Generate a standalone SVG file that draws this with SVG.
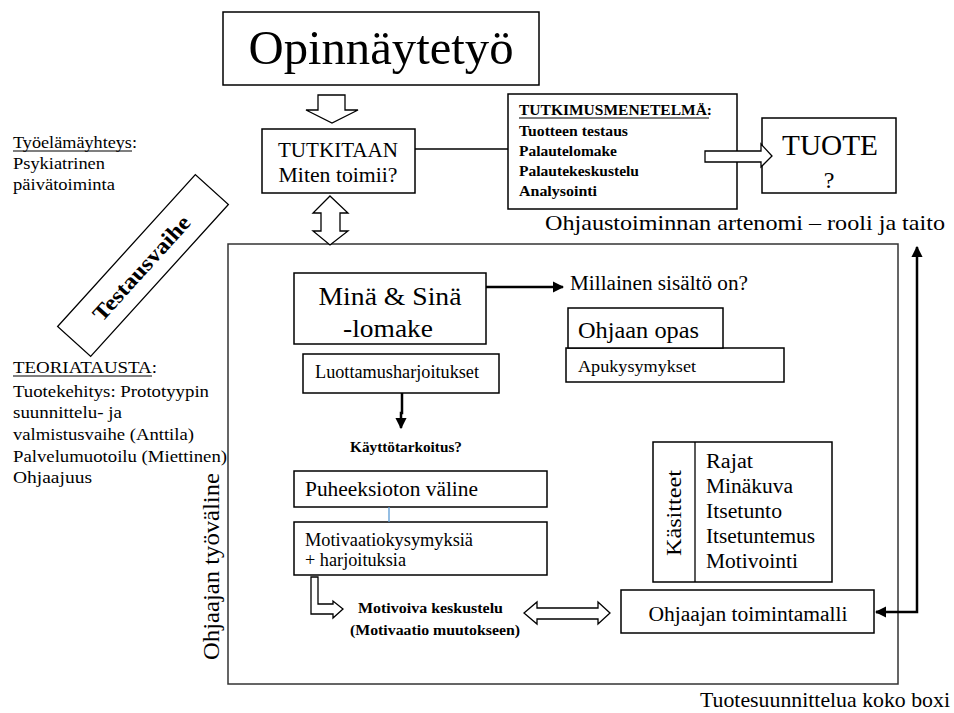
<svg xmlns="http://www.w3.org/2000/svg" width="954" height="713" viewBox="0 0 954 713" font-family="'Liberation Serif', 'DejaVu Serif', serif">
<style>
text{font-family:'Liberation Serif','DejaVu Serif',serif;font-weight:normal;fill:#000}
text.b{font-weight:bold}
.box{fill:#fff;stroke:#000;stroke-width:1.5}
.blk{fill:#fff;stroke:#000;stroke-width:1.3;stroke-linejoin:miter}
.ln{fill:none;stroke:#000;stroke-width:2.5}
.thin{fill:none;stroke:#000;stroke-width:1.3}
.ul{stroke:#000;stroke-width:1.2}
</style>
<defs>
<marker id="ah" viewBox="0 0 10 10" refX="9" refY="5" markerWidth="4.5" markerHeight="4.5" orient="auto" markerUnits="strokeWidth">
<path d="M0,0 L10,5 L0,10 z" fill="#000"/>
</marker>
</defs>
<rect width="954" height="713" fill="#fff"/>

<g id="opinnaytetyo">
<rect class="box" x="223" y="12" width="316" height="73"/>
<text x="381" y="64" font-size="48" text-anchor="middle" textLength="265" lengthAdjust="spacingAndGlyphs">Opinnäytetyö</text>
</g>

<g id="tutkitaan">
<rect class="box" x="262" y="129" width="153" height="64"/>
<text x="338" y="157" font-size="20" text-anchor="middle" textLength="120" lengthAdjust="spacingAndGlyphs">TUTKITAAN</text>
<text x="338" y="182" font-size="20" text-anchor="middle" textLength="119" lengthAdjust="spacingAndGlyphs">Miten toimii?</text>
</g>

<g id="tutkimusmenetelma">
<rect class="box" x="508" y="94" width="229" height="115"/>
<text x="519" y="115" font-size="14" class="b" textLength="193" lengthAdjust="spacingAndGlyphs">TUTKIMUSMENETELMÄ:</text>
<line class="ul" x1="519" y1="118" x2="709" y2="118"/>
<text x="519" y="136" font-size="15" class="b" textLength="109" lengthAdjust="spacingAndGlyphs">Tuotteen testaus</text>
<text x="519" y="156" font-size="15" class="b" textLength="98" lengthAdjust="spacingAndGlyphs">Palautelomake</text>
<text x="519" y="176" font-size="15" class="b" textLength="120" lengthAdjust="spacingAndGlyphs">Palautekeskustelu</text>
<text x="519" y="196" font-size="15" class="b" textLength="78" lengthAdjust="spacingAndGlyphs">Analysointi</text>
</g>

<g id="tuote">
<rect class="box" x="762" y="118" width="134" height="75"/>
<text x="830" y="155" font-size="29" text-anchor="middle" textLength="96" lengthAdjust="spacingAndGlyphs">TUOTE</text>
<text x="829" y="188" font-size="24" text-anchor="middle">?</text>
</g>

<g id="label-ohjaustoiminnan">
<text x="545" y="230" font-size="22" textLength="400" lengthAdjust="spacingAndGlyphs">Ohjaustoiminnan artenomi – rooli ja taito</text>
</g>

<g id="tyoelamayhteys">
<text x="13" y="148" font-size="17" textLength="124" lengthAdjust="spacingAndGlyphs">Työelämäyhteys:</text>
<line class="ul" x1="13" y1="151" x2="132" y2="151"/>
<text x="13" y="169" font-size="17" textLength="92" lengthAdjust="spacingAndGlyphs">Psykiatrinen</text>
<text x="13" y="190" font-size="17" textLength="102" lengthAdjust="spacingAndGlyphs">päivätoiminta</text>
</g>

<g id="testausvaihe" transform="translate(143,265.5) rotate(-47.8)">
<rect x="-102.5" y="-22.3" width="205" height="44.6" fill="#fff" stroke="#000" stroke-width="1.3"/>
<text x="-3" y="8" font-size="22" class="b" text-anchor="middle" textLength="134" lengthAdjust="spacingAndGlyphs">Testausvaihe</text>
</g>

<g id="teoriatausta">
<text x="13" y="373" font-size="17" textLength="144" lengthAdjust="spacingAndGlyphs">TEORIATAUSTA:</text>
<line class="ul" x1="13" y1="376" x2="152" y2="376"/>
<text x="13" y="397" font-size="17" textLength="196" lengthAdjust="spacingAndGlyphs">Tuotekehitys: Prototyypin</text>
<text x="13" y="418" font-size="17" textLength="109" lengthAdjust="spacingAndGlyphs">suunnittelu- ja</text>
<text x="13" y="440" font-size="17" textLength="181" lengthAdjust="spacingAndGlyphs">valmistusvaihe (Anttila)</text>
<text x="13" y="462" font-size="17" textLength="214" lengthAdjust="spacingAndGlyphs">Palvelumuotoilu (Miettinen)</text>
<text x="13" y="483" font-size="17" textLength="79" lengthAdjust="spacingAndGlyphs">Ohjaajuus</text>
</g>

<g id="tuotesuunnittelu-box">
<rect x="228" y="244" width="670" height="440" fill="none" stroke="#333" stroke-width="1.5"/>
<text x="700" y="707" font-size="22" textLength="250" lengthAdjust="spacingAndGlyphs">Tuotesuunnittelua koko boxi</text>
</g>

<g id="ohjaajan-tyovaline">
<text transform="translate(219,566.5) rotate(-90)" x="0" y="0" font-size="24" text-anchor="middle" textLength="187" lengthAdjust="spacingAndGlyphs">Ohjaajan työväline</text>
</g>

<g id="mina-sina">
<rect class="box" x="294" y="273" width="192" height="71"/>
<text x="390" y="305" font-size="26" text-anchor="middle" textLength="143" lengthAdjust="spacingAndGlyphs">Minä &amp; Sinä</text>
<text x="388" y="337" font-size="26" text-anchor="middle" textLength="90" lengthAdjust="spacingAndGlyphs">-lomake</text>
</g>

<g id="millainen">
<text x="570" y="290" font-size="20" textLength="178" lengthAdjust="spacingAndGlyphs">Millainen sisältö on?</text>
</g>

<g id="ohjaan-opas">
<rect class="box" x="566" y="348" width="218" height="34"/>
<text x="578" y="372" font-size="17" textLength="118" lengthAdjust="spacingAndGlyphs">Apukysymykset</text>
<rect class="box" x="568" y="308" width="155" height="40"/>
<text x="578" y="338" font-size="23" textLength="121" lengthAdjust="spacingAndGlyphs">Ohjaan opas</text>
</g>

<g id="luottamusharjoitukset">
<rect class="box" x="303" y="354" width="196" height="39"/>
<text x="315" y="378" font-size="18" textLength="164" lengthAdjust="spacingAndGlyphs">Luottamusharjoitukset</text>
</g>

<g id="kayttotarkoitus">
<text x="350" y="452" font-size="15" class="b" textLength="112" lengthAdjust="spacingAndGlyphs">Käyttötarkoitus?</text>
</g>

<g id="puheeksioton">
<rect class="box" x="294" y="471" width="253" height="36"/>
<text x="305" y="496" font-size="20" textLength="173" lengthAdjust="spacingAndGlyphs">Puheeksioton väline</text>
</g>

<g id="motivaatiokysymyksia">
<rect class="box" x="294" y="522" width="253" height="53"/>
<text x="305" y="546" font-size="18" textLength="168" lengthAdjust="spacingAndGlyphs">Motivaatiokysymyksiä</text>
<text x="305" y="566" font-size="18" textLength="101" lengthAdjust="spacingAndGlyphs">+ harjoituksia</text>
</g>

<g id="motivoiva">
<text x="358" y="613" font-size="15" class="b" textLength="145" lengthAdjust="spacingAndGlyphs">Motivoiva keskustelu</text>
<text x="350" y="635" font-size="15" class="b" textLength="170" lengthAdjust="spacingAndGlyphs">(Motivaatio muutokseen)</text>
</g>

<g id="kasitteet">
<rect class="box" x="653" y="442" width="179" height="140"/>
<line class="thin" x1="695" y1="442" x2="695" y2="582"/>
<text transform="translate(681,513) rotate(-90)" x="0" y="0" font-size="20" text-anchor="middle" textLength="86" lengthAdjust="spacingAndGlyphs">Käsitteet</text>
<text x="706" y="468" font-size="20" textLength="47" lengthAdjust="spacingAndGlyphs">Rajat</text>
<text x="706" y="493" font-size="20" textLength="87" lengthAdjust="spacingAndGlyphs">Minäkuva</text>
<text x="706" y="518" font-size="20" textLength="76" lengthAdjust="spacingAndGlyphs">Itsetunto</text>
<text x="706" y="543" font-size="20" textLength="109" lengthAdjust="spacingAndGlyphs">Itsetuntemus</text>
<text x="706" y="568" font-size="20" textLength="92" lengthAdjust="spacingAndGlyphs">Motivointi</text>
</g>

<g id="ohjaajan-toimintamalli">
<rect class="box" x="621" y="590" width="253" height="43"/>
<text x="748" y="621" font-size="20" text-anchor="middle" textLength="199" lengthAdjust="spacingAndGlyphs">Ohjaajan toimintamalli</text>
</g>

<g id="connectors">
<polygon class="blk" points="318,95 345,95 345,110 358,110 332,123 306,110 318,110"/>
<polygon class="blk" points="330,196 348,213 340,213 340,231 348,231 330,245 313,231 321,231 321,213 313,213"/>
<line class="thin" x1="415" y1="149" x2="508" y2="149"/>
<polygon class="blk" points="705,151 761,151 761,144 772,156 761,167 761,162 705,162"/>
<line class="ln" x1="486" y1="287" x2="563" y2="287" marker-end="url(#ah)"/>
<polyline class="ln" points="402,393 402,413 401,413 401,428" marker-end="url(#ah)"/>
<line x1="389" y1="507" x2="389" y2="522" stroke="#5b9bd5" stroke-width="1.3"/>
<polygon class="blk" points="311,577 318,577 318,604 333,604 333,601 343,609 333,618 333,614 311,614"/>
<polygon class="blk" points="524,613 537,602 537,608 598,608 598,602 610,613 598,624 598,619 537,619 537,624"/>
<polyline class="ln" points="876,612 917,612 917,247" marker-end="url(#ah)"/>
<line class="ln" x1="880" y1="612" x2="876" y2="612" marker-end="url(#ah)"/>
</g>
</svg>
